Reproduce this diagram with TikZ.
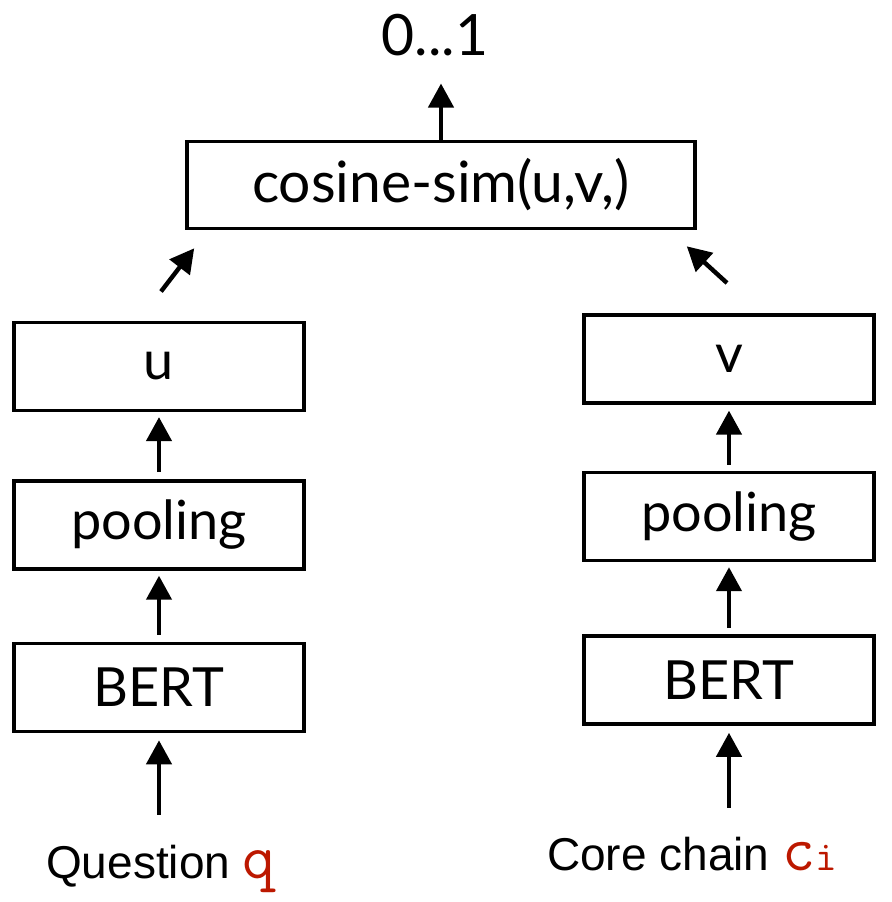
\documentclass[tikz,border=0pt]{standalone}
\usepackage{fontspec}
\setmainfont{Lato}
\newfontfamily\labelfont{Liberation Sans}
\usetikzlibrary{arrows.meta,positioning}
\definecolor{inred}{RGB}{188,24,0}

\begin{document}
\begin{tikzpicture}[x=0.5pt, y=-0.5pt]
  \tikzstyle{layer} = [rectangle, draw, line width=1.8pt, minimum width=145pt,
                       minimum height=44pt, inner sep=0pt, font=\fontsize{27}{32}\selectfont]
  \tikzstyle{flow} = [line width=2.2pt, -{Triangle[length=12pt,width=12.5pt]}]
  \tikzstyle{inp} = [anchor=base, font=\labelfont\fontsize{23}{28}\selectfont]
\useasboundingbox (0,0) rectangle (892,902);
\node[layer, minimum width=254pt, minimum height=43.5pt, font=\fontsize{28.5}{32}\selectfont] (cos) at (441,185) {cosine-sim(u,v,)};
\node[anchor=base, font=\fontsize{28.5}{32}\selectfont] (score) at (435,55) {0...1};
\node[layer] (bertq) at (159,687.5) {BERT};
\node[layer, above=35.5pt of bertq] (poolq) {pooling};
\node[layer, above=33.5pt of poolq] (u) {u};
\node[layer] (bertc) at (729,680) {BERT};
\node[layer, above=36pt of bertc] (poolc) {pooling};
\node[layer, above=33pt of poolc] (v) {v};
\node[inp] (qlab) at (161,878) {Question {\ttfamily\color{inred}\fontsize{32}{32}\selectfont q}};
\node[inp] (clab) at (692,870) {Core chain {\ttfamily\color{inred}\fontsize{32}{32}\selectfont c\fontsize{21}{21}\selectfont i}};
\draw[flow, shorten >=10.5pt] (cos.north) -- (cos.north |- score.south);
\draw[flow] ([xshift=1pt,yshift=14.5pt]u.north) -- ([xshift=4.5pt,yshift=-9pt]cos.south west);
\draw[flow] ([xshift=-1pt,yshift=15pt]v.north) -- ([xshift=-5pt,yshift=-8pt]cos.south east);
\draw[flow, shorten <=3.5pt, shorten >=2.5pt] (poolq) -- (u);
\draw[flow, shorten <=3.5pt, shorten >=2.5pt] (bertq) -- (poolq);
\draw[flow, shorten <=3pt, shorten >=3pt] (poolc) -- (v);
\draw[flow, shorten <=3pt, shorten >=2.5pt] (bertc) -- (poolc);
\draw[flow, shorten <=11.5pt, shorten >=3.5pt] (bertq.south |- qlab.north) -- (bertq.south);
\draw[flow, shorten <=11pt, shorten >=3.5pt] (bertc.south |- clab.north) -- (bertc.south);
\end{tikzpicture}
\end{document}
